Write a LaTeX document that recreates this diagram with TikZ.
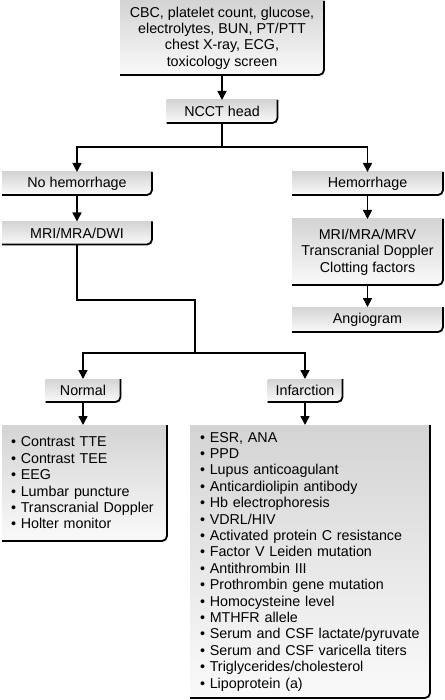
\documentclass[tikz,border=0pt]{standalone}
\usepackage{fontspec}
\setmainfont{Liberation Sans}
\usetikzlibrary{arrows.meta,positioning}
\tikzset{
    box/.style={top color=black!17,bottom color=black!2,align=center,inner sep=0pt,outer sep=0pt,minimum height=23pt,font=\fontsize{14.3}{16.4}\selectfont},
    listbox/.style={box,align=left,inner xsep=9pt},
    rim/.style={line width=1.8pt,rounded corners=5pt},
    line/.style={line width=1.6pt},
    arrow/.style={-{Triangle[length=9pt,width=9pt]},line width=1.6pt}
}

\begin{document}
\begin{tikzpicture}[x=1pt,y=-1pt]
    \useasboundingbox (0,0) rectangle (444,700);
    % workup boxes
    \node[box,minimum width=204pt,minimum height=74pt] (tests) at (222,38) {CBC, platelet count, glucose,\\electrolytes, BUN, PT/PTT\\chest X-ray, ECG,\\toxicology screen};
    \node[box,minimum width=111pt] (ncct) at (222,111.5) {NCCT head};
    \node[box,minimum width=150pt] (nohem) at (77,183.5) {No hemorrhage};
    \node[box,minimum width=150pt] (dwi) at (77,233) {MRI/MRA/DWI};
    \node[box,minimum width=151pt] (hem) at (367.5,183.5) {Hemorrhage};
    \node[box,minimum width=151pt,minimum height=66pt] (mrv) at (367.5,252) {MRI/MRA/MRV\\Transcranial Doppler\\Clotting factors};
    \node[box,minimum width=151pt,minimum height=25pt] (angio) at (367.5,319.5) {Angiogram};
    \node[box,minimum width=75pt] (normal) at (83,390.5) {Normal};
    \node[box,minimum width=75pt] (infarct) at (305,390.5) {Infarction};
    \node[listbox,text width=147pt,minimum height=116pt] (normlist) at (84.5,483) {\textbullet\ Contrast TTE\\\textbullet\ Contrast TEE\\\textbullet\ EEG\\\textbullet\ Lumbar puncture\\\textbullet\ Transcranial Doppler\\\textbullet\ Holter monitor};
    \node[listbox,inner xsep=10pt,text width=220pt,minimum height=273pt] (inflist) at (310,561.5) {\textbullet\ ESR, ANA\\\textbullet\ PPD\\\textbullet\ Lupus anticoagulant\\\textbullet\ Anticardiolipin antibody\\\textbullet\ Hb electrophoresis\\\textbullet\ VDRL/HIV\\\textbullet\ Activated protein C resistance\\\textbullet\ Factor V Leiden mutation\\\textbullet\ Antithrombin III\\\textbullet\ Prothrombin gene mutation\\\textbullet\ Homocysteine level\\\textbullet\ MTHFR allele\\\textbullet\ Serum and CSF lactate/pyruvate\\\textbullet\ Serum and CSF varicella titers\\\textbullet\ Triglycerides/cholesterol\\\textbullet\ Lipoprotein (a)};
    % right and bottom edges
    \foreach \n in {tests,ncct,nohem,dwi,hem,mrv,angio,normal,infarct,normlist,inflist}
        \draw[rim] (\n.north east) |- (\n.south west);
    % connectors
    \coordinate (fork) at (222,147);
    \coordinate (bend) at (195,300);
    \coordinate (fork2) at (195,353);
    \draw[arrow] (tests) -- (ncct);
    \draw[line] (ncct) -- (fork);
    \draw[arrow] (fork) -| (nohem);
    \draw[arrow] (fork) -| (hem);
    \draw[arrow] (nohem) -- (dwi);
    \draw[arrow] (hem) -- (mrv);
    \draw[arrow] (mrv) -- (angio);
    \draw[line] (dwi) |- (bend) -- (fork2);
    \draw[arrow] (fork2) -| (normal);
    \draw[arrow] (fork2) -| (infarct);
    \draw[arrow] (normal.south) -- (normal.south |- normlist.north);
    \draw[arrow] (infarct.south) -- (infarct.south |- inflist.north);
\end{tikzpicture}
\end{document}
